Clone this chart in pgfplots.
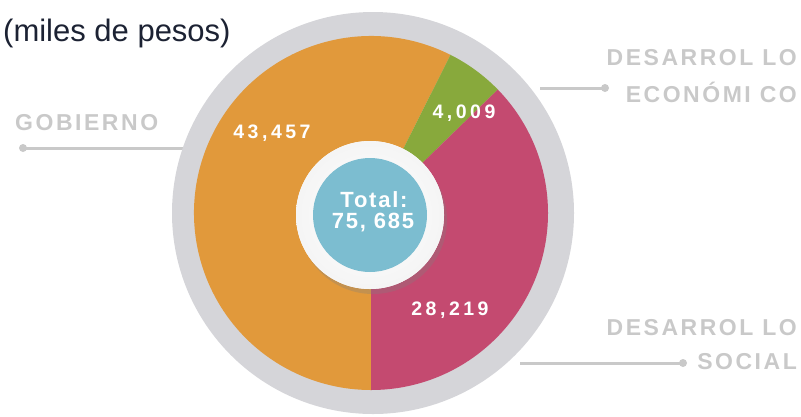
\documentclass[border=0pt]{standalone}
\usepackage{pgfplots}
\pgfplotsset{compat=1.18}
\usepackage{pgfplotstable}
\usepackage{fontspec}
\setmainfont{Liberation Sans}
\newfontfamily\lblfont[LetterSpace=11]{Liberation Sans}
\newfontfamily\valfont[LetterSpace=18]{Liberation Sans}
\newfontfamily\totfont[LetterSpace=8]{Liberation Sans}
\usetikzlibrary{shadows}
\definecolor{cGob}{HTML}{E1993B}
\definecolor{cEco}{HTML}{88A93C}
\definecolor{cSoc}{HTML}{C44A70}
\definecolor{cTot}{HTML}{7CBDD0}
\definecolor{cRing}{HTML}{D5D5D9}
\definecolor{cLbl}{HTML}{C9C9C9}
\definecolor{cTitle}{HTML}{1C2233}

\pgfplotstableread{
sector value
Gobierno 43457
Economico 4009
Social 28219
}\piedata

\begin{document}
\begin{tikzpicture}
\pgfplotstablegetelem{0}{value}\of\piedata \edef\vG{\pgfplotsretval}
\pgfplotstablegetelem{1}{value}\of\piedata \edef\vE{\pgfplotsretval}
\pgfplotstablegetelem{2}{value}\of\piedata \edef\vS{\pgfplotsretval}
\edef\tot{\fpeval{\vG+\vE+\vS}}
\edef\aG{\fpeval{270-360*\vG/\tot}}
\edef\aE{\fpeval{\aG-360*\vE/\tot}}
\edef\aS{\fpeval{\aE-360*\vS/\tot}}
\begin{axis}[
  x=1bp, y=1bp, xmin=0, xmax=801, ymin=0, ymax=416,
  y dir=reverse, hide axis, clip=false,
]
\path (rel axis cs:0,0) rectangle (rel axis cs:1,1);
% connector lines
\begin{scope}[draw=cLbl, line width=3bp]
\draw (axis cs:190,148) -- (axis cs:23,148);
\fill[cLbl] (axis cs:23,148) circle[radius=4bp];
\draw (axis cs:540,88) -- (axis cs:605,88);
\fill[cLbl] (axis cs:605,88) circle[radius=4bp];
\draw (axis cs:520,363) -- (axis cs:683,363);
\fill[cLbl] (axis cs:683,363) circle[radius=4bp];
\end{scope}
% outer ring
\fill[cRing] (axis cs:373,213) circle[radius=201bp];
% sectors
\fill[cGob] (axis cs:371,213) -- ++(\aG:177bp) arc[start angle=\aG, end angle=270, radius=177bp] -- cycle;
\fill[cEco] (axis cs:371,213) -- ++(\aE:177bp) arc[start angle=\aE, end angle=\aG, radius=177bp] -- cycle;
\fill[cSoc] (axis cs:371,213) -- ++(\aS:177bp) arc[start angle=\aS, end angle=\aE, radius=177bp] -- cycle;
% centre
\fill[white, drop shadow={opacity=0.3, shadow xshift=3bp, shadow yshift=-5bp}] (axis cs:370,215) circle[radius=74bp];
\shade[inner color=white, outer color=gray!8] (axis cs:370,215) circle[radius=74bp];
\fill[cTot] (axis cs:370,215) circle[radius=57bp];
\node[white, font=\totfont\bfseries\fontsize{22bp}{24bp}\selectfont] at (axis cs:374,200) {Total:};
\node[white, font=\totfont\bfseries\fontsize{22bp}{24bp}\selectfont] at (axis cs:373,223) {75, 685};
% values
\node[white, font=\valfont\bfseries\fontsize{19.5bp}{22bp}\selectfont] at (axis cs:272,133) {43,457};
\node[white, font=\valfont\bfseries\fontsize{19.5bp}{22bp}\selectfont] at (axis cs:464,113) {4,009};
\node[white, font=\valfont\bfseries\fontsize{19.5bp}{22bp}\selectfont] at (axis cs:450,310) {28,219};
% labels
\node[anchor=base west, inner sep=0, text=cTitle, font=\fontsize{31bp}{34bp}\selectfont] at (axis cs:3,41) {(miles de pesos)};
\node[anchor=west, inner sep=0, text=cLbl, font=\lblfont\bfseries\fontsize{23bp}{25bp}\selectfont] at (axis cs:15,123) {GOBIERNO};
\node[anchor=east, inner sep=0, text=cLbl, font=\lblfont\bfseries\fontsize{23bp}{25bp}\selectfont] at (axis cs:797,58) {DESARROL LO};
\node[anchor=east, inner sep=0, text=cLbl, font=\lblfont\bfseries\fontsize{23bp}{25bp}\selectfont] at (axis cs:797,92) {ECONÓMI CO};
\node[anchor=east, inner sep=0, text=cLbl, font=\lblfont\bfseries\fontsize{23bp}{25bp}\selectfont] at (axis cs:797,328) {DESARROL LO};
\node[anchor=east, inner sep=0, text=cLbl, font=\lblfont\bfseries\fontsize{23bp}{25bp}\selectfont] at (axis cs:797,362) {SOCIAL};
\end{axis}
\end{tikzpicture}
\end{document}
